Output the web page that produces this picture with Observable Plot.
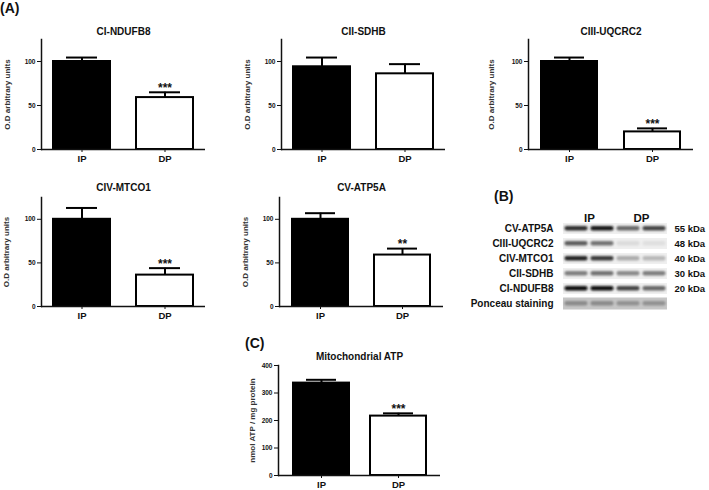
<!DOCTYPE html>
<html><head><meta charset="utf-8">
<script src="https://cdn.jsdelivr.net/npm/d3@7"></script>
<script src="https://cdn.jsdelivr.net/npm/@observablehq/plot@0.6"></script>
<style>
body{margin:0;background:#fff;font-family:"Liberation Sans",Arial,sans-serif;}
#wrap{position:relative;width:709px;height:490px;overflow:hidden;background:#fff}
.p{position:absolute}
.lab{position:absolute;font-weight:bold;font-size:14px;line-height:14px;color:#111}
</style></head><body><div id="wrap"></div>
<script>
// ---------- data ----------
const groups = ["IP", "DP"];
const panelLetters = ["(A)", "(B)", "(C)"];
const titleCI = "CI-NDUFB8", titleCII = "CII-SDHB", titleCIII = "CIII-UQCRC2",
      titleCIV = "CIV-MTCO1", titleCV = "CV-ATP5A", titleATP = "Mitochondrial ATP";
const meanCI = [100, 59],  semCI = [4.5, 6],   sigCI = ["", "***"];
const meanCII = [94, 86],  semCII = [10.5, 11], sigCII = ["", ""];
const meanCIII = [100, 20], semCIII = [4.5, 4], sigCIII = ["", "***"];
const meanCIV = [100, 36], semCIV = [13, 8],   sigCIV = ["", "***"];
const meanCV = [100, 59],  semCV = [7, 7.4],   sigCV = ["", "**"];
const meanATP = [336, 216], semATP = [12, 10], sigATP = ["", "***"];
const yLabelA = "O.D arbitrary units";
const yLabelC = "nmol ATP / mg protein";
const ticksA = [0, 50, 100];
const ticksC = [0, 100, 200, 300, 400];

// western blot (band darkness 0..1)
const blotRows = ["CV-ATP5A", "CIII-UQCRC2", "CIV-MTCO1", "CII-SDHB", "CI-NDUFB8", "Ponceau staining"];
const blotKDa = ["55 kDa", "48 kDa", "40 kDa", "30 kDa", "20 kDa", ""];
const blotLanes = ["IP 1", "IP 2", "DP 1", "DP 2"];
const blotHeaderLanes = ["IP 1", "DP 1"];
const blotHeaderText = ["IP", "DP"];
const bandCV = [0.85, 0.95, 0.6, 0.75];
const bandCIII = [0.65, 0.55, 0.1, 0.08];
const bandCIV = [0.9, 0.8, 0.3, 0.25];
const bandCII = [0.5, 0.55, 0.45, 0.5];
const bandCI = [1.0, 1.0, 0.75, 0.6];
const bandPonceau = [0.45, 0.45, 0.42, 0.42];

// ---------- helpers ----------
const wrap = document.getElementById("wrap");
const FONT = "Liberation Sans, Arial, sans-serif";
function place(el, left, top) {
  const d = document.createElement("div");
  d.className = "p"; d.style.left = left + "px"; d.style.top = top + "px";
  d.appendChild(el); wrap.appendChild(d);
}
function letter(t, left, top) {
  const d = document.createElement("div");
  d.className = "lab"; d.textContent = t;
  d.style.left = left + "px"; d.style.top = top + "px";
  wrap.appendChild(d);
}
function barPanel(c) {
  const rows = groups.map((g, i) => ({group: g, mean: c.mean[i], top: c.mean[i] + c.sem[i], sig: c.sig[i]}));
  return Plot.plot({
    width: c.w, height: c.h,
    marginTop: c.mt, marginBottom: c.mb, marginLeft: c.ml, marginRight: c.mr,
    style: {fontFamily: FONT, fontWeight: "bold", fontSize: "7px", color: "#111", background: "transparent"},
    x: {domain: groups, paddingInner: c.pi, paddingOuter: c.po, label: null},
    y: {domain: [0, c.ymax], label: null},
    color: {domain: groups, range: ["#000", "#fff"]},
    marks: [
      Plot.barY(rows, {x: "group", y: "mean", fill: "group", stroke: "#000", strokeWidth: 2}),
      Plot.ruleX(rows, {x: "group", y1: "mean", y2: "top", stroke: "#000", strokeWidth: 2}),
      Plot.tickY(rows, {x: "group", y: "top", inset: 13, stroke: "#000", strokeWidth: 2}),
      Plot.text(rows, {x: "group", y: "top", text: "sig", dy: -4, fontSize: 12, fontWeight: "bold", fill: "#111"}),
      Plot.frame({anchor: "left", stroke: "#111", strokeWidth: 1.5}),
      Plot.ruleY([0], {stroke: "#111", strokeWidth: 1.5}),
      Plot.axisY({ticks: c.ticks, tickSize: 4, tickPadding: 2, fontSize: 6.5, label: null}),
      Plot.axisX({tickSize: 3, tickPadding: 3, fontSize: 9.5, label: null}),
      Plot.text([c.ylabel], {frameAnchor: "left", textAnchor: "middle", rotate: -90, dx: -c.lo, fontSize: 8, fontWeight: "bold", fill: "#333"}),
      Plot.text([c.title], {frameAnchor: "top", dy: c.tdy, fontSize: 10, fontWeight: "bold", fill: "#111"})
    ]
  });
}

// ---------- panels A ----------
place(barPanel({title: titleCI, mean: meanCI, sem: semCI, sig: sigCI, ylabel: yLabelA, ticks: ticksA, ymax: 125,
  w: 240, h: 180, mt: 39, mb: 31, ml: 41, mr: 35, pi: 0.313, po: 0.144, lo: 34, tdy: -11.5}), 0, 0);
place(barPanel({title: titleCII, mean: meanCII, sem: semCII, sig: sigCII, ylabel: yLabelA, ticks: ticksA, ymax: 125,
  w: 240, h: 180, mt: 39, mb: 31, ml: 41, mr: 35, pi: 0.313, po: 0.144, lo: 34, tdy: -11.5}), 240, 0);
place(barPanel({title: titleCIII, mean: meanCIII, sem: semCIII, sig: sigCIII, ylabel: yLabelA, ticks: ticksA, ymax: 125,
  w: 239, h: 180, mt: 39, mb: 31, ml: 58, mr: 16, pi: 0.325, po: 0.156, lo: 37, tdy: -11.5}), 470, 0);
place(barPanel({title: titleCIV, mean: meanCIV, sem: semCIV, sig: sigCIV, ylabel: yLabelA, ticks: ticksA, ymax: 125,
  w: 240, h: 150, mt: 17, mb: 24, ml: 41, mr: 35, pi: 0.313, po: 0.144, lo: 35, tdy: -14}), 0, 180);
place(barPanel({title: titleCV, mean: meanCV, sem: semCV, sig: sigCV, ylabel: yLabelA, ticks: ticksA, ymax: 125,
  w: 240, h: 150, mt: 17, mb: 24, ml: 49, mr: 27, pi: 0.32, po: 0.154, lo: 34, tdy: -14}), 230, 180);

// ---------- panel C ----------
place(barPanel({title: titleATP, mean: meanATP, sem: semATP, sig: sigATP, ylabel: yLabelC, ticks: ticksC, ymax: 400,
  w: 240, h: 160, mt: 35, mb: 15, ml: 48, mr: 30, pi: 0.277, po: 0.184, lo: 26, tdy: -13}), 230, 330);

// ---------- panel B (blot) ----------
const bandSets = [bandCV, bandCIII, bandCIV, bandCII, bandCI, bandPonceau];
const blot = [];
blotRows.forEach((r, i) => blotLanes.forEach((l, j) => blot.push({row: r, lane: l, v: bandSets[i][j]})));
const headers = blotHeaderLanes.map((l, i) => ({lane: l, text: blotHeaderText[i]}));
const blotSvg = Plot.plot({
  width: 239, height: 150, marginTop: 50, marginBottom: 8, marginLeft: 92, marginRight: 41,
  style: {fontFamily: FONT, fontWeight: "bold", fontSize: "10px", color: "#111", background: "transparent"},
  x: {domain: blotLanes, padding: 0, axis: null},
  y: {domain: blotRows, padding: 0, label: null},
  color: {type: "linear", domain: [0, 1], range: ["#f2f2f2", "#0a0a0a"]},
  marks: [
    Plot.cell(blot.filter(d => d.row !== "Ponceau staining"), {x: "lane", y: "row", fill: "#efefef", insetTop: 2, insetBottom: 2}),
    Plot.cell(blot.filter(d => d.row === "Ponceau staining"), {x: "lane", y: "row", fill: "#c6c6c6", insetTop: 1.5, insetBottom: 1.5}),
    Plot.cell(blot, {x: "lane", y: "row", fill: "v", insetLeft: 1.5, insetRight: 1.5, insetTop: 5, insetBottom: 5.5, rx: 2}),
    Plot.axisY({anchor: "left", tickSize: 0, tickPadding: 9, fontSize: 10, label: null}),
    Plot.axisY({anchor: "right", tickSize: 0, tickPadding: 6, fontSize: 9.5, label: null, tickFormat: (d) => blotKDa[blotRows.indexOf(d)]}),
    Plot.text(headers, {x: "lane", text: "text", frameAnchor: "top", dx: 13, dy: -7, fontSize: 11.5, fontWeight: "bold", fill: "#111"})
  ]
});
{
  const svg = d3.select(blotSvg.tagName.toLowerCase() === "svg" ? blotSvg : blotSvg.querySelector("svg"));
  const defs = svg.insert("defs", ":first-child");
  defs.append("filter").attr("id", "blotblur").attr("x", "-30%").attr("y", "-100%").attr("width", "160%").attr("height", "300%")
    .append("feGaussianBlur").attr("stdDeviation", 1.2);
  const cellGroups = svg.selectAll('g[aria-label="cell"]').nodes();
  d3.select(cellGroups[cellGroups.length - 1]).attr("filter", "url(#blotblur)");
}
place(blotSvg, 470, 170);

letter(panelLetters[0], 0, 1);
letter(panelLetters[1], 494, 189);
letter(panelLetters[2], 245, 336);
</script></body></html>
